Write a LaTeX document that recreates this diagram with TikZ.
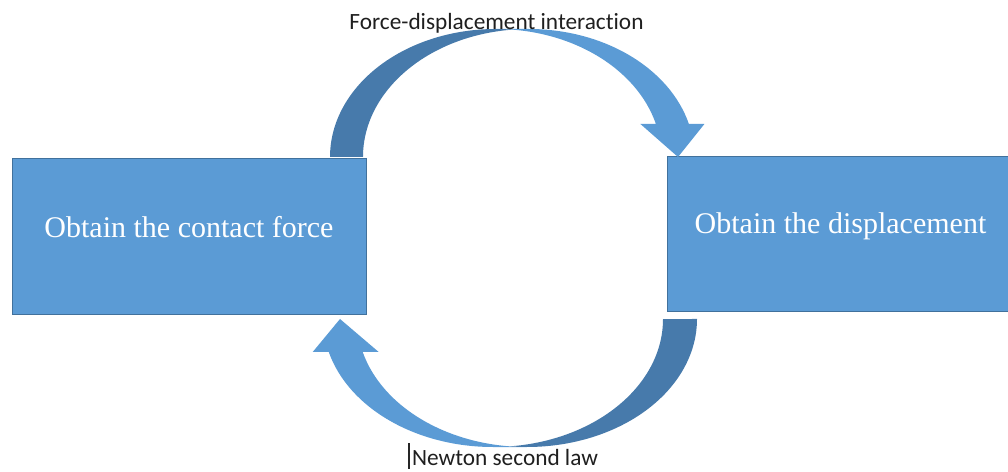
\documentclass[tikz,border=0pt]{standalone}
\usepackage{fontspec}
\setmainfont{Liberation Serif}
\newfontfamily\calibrifont[Ligatures={NoCommon,NoRare}]{Carlito}
\definecolor{boxblue}{HTML}{5B9BD5}
\definecolor{boxedge}{HTML}{41719C}
\definecolor{darkblue}{HTML}{477AAB}
\begin{document}
\begin{tikzpicture}[x=1pt,y=1pt,
  stepbox/.style={fill=boxblue, draw=boxedge, line width=0.8pt, inner sep=0pt, anchor=south west},
  boxtext/.style={text=white, font=\fontsize{30}{36}\selectfont, anchor=base, inner sep=0pt},
  lbl/.style={font=\calibrifont\fontsize{23.3}{28}\selectfont, anchor=base, inner sep=0pt, text=black!88},
  lightpart/.style={fill=boxblue},
  darkpart/.style={fill=darkblue}]
\useasboundingbox (0,0) rectangle (1008,471);

% boxes
\node[stepbox, minimum width=354pt, minimum height=156pt] (force) at (12,156) {};
\node[stepbox, minimum width=343pt, minimum height=155pt] (disp) at (667,159) {};
\node[boxtext] (forcetext) at (189,233.5) {Obtain the contact force};
\node[boxtext] (disptext) at (840.5,237) {Obtain the displacement};

% top curved arrow (force -> displacement)
\path[lightpart] (678,314) -- (640.4,347) -- (655.9,347)
  arc[start angle=14.94, end angle=90, x radius=165.75, y radius=128]
  -- (528.75,442)
  arc[start angle=90, end angle=14.94, x radius=165.75, y radius=128]
  -- (704.4,347) -- cycle;
\path[darkpart] (512.25,441.36)
  arc[start angle=95.71, end angle=180, x radius=165.75, y radius=128]
  -- (330,314)
  arc[start angle=180, end angle=84.29, x radius=165.75, y radius=128]
  -- cycle;

% bottom curved arrow (displacement -> force)
\path[lightpart] (340,152) -- (378.7,119) -- (362.7,119)
  arc[start angle=194.94, end angle=270, x radius=170, y radius=128]
  -- (493,24)
  arc[start angle=270, end angle=194.94, x radius=170, y radius=128]
  -- (312.7,119) -- cycle;
\path[darkpart] (510,24.64)
  arc[start angle=275.74, end angle=360, x radius=170, y radius=128]
  -- (697,152)
  arc[start angle=360, end angle=264.26, x radius=170, y radius=128]
  -- cycle;

% labels
\node[lbl] (toplabel) at (496.5,441.5) {Force-displacement interaction};
\node[lbl] (botlabel) at (505,6) {Newton second law};
\coordinate (cursortop) at (409,28);
\coordinate (cursorbot) at (409,2);
\draw[line width=1.2pt, black!85] (cursortop) -- (cursorbot);
\end{tikzpicture}
\end{document}
